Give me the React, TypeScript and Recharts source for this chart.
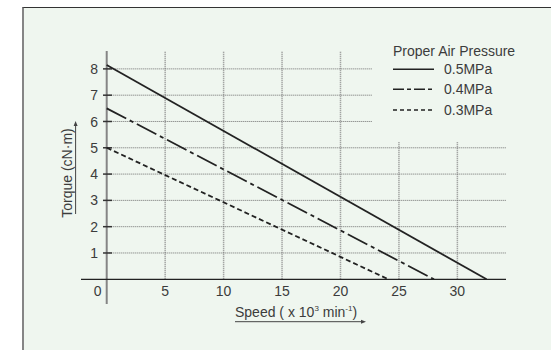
import React from 'react';
import { LineChart, Line, XAxis, YAxis, ReferenceLine, Legend } from 'recharts';

const speedTicks = [0, 5, 10, 15, 20, 25, 30];
const torqueTicks = [1, 2, 3, 4, 5, 6, 7, 8];

const seriesNames = ['0.5MPa', '0.4MPa', '0.3MPa'];
const speed05 = [0, 32.5];
const torque05 = [8.15, 0];
const speed04 = [0, 28.0];
const torque04 = [6.5, 0];
const speed03 = [0, 24.1];
const torque03 = [5.0, 0];

const legendTitle = 'Proper Air Pressure';
const xTitle = 'Speed';
const yTitle = 'Torque (cN·m)';

const toData = (s: number[], t: number[]) => s.map((v, i) => ({ s: v, t: t[i] }));

const dashes = ['', '22 4 4 4', '5 3'];
const series = [
  { name: seriesNames[0], data: toData(speed05, torque05), dash: dashes[0] },
  { name: seriesNames[1], data: toData(speed04, torque04), dash: dashes[1] },
  { name: seriesNames[2], data: toData(speed03, torque03), dash: dashes[2] },
];

const FONT = '"Liberation Sans", Arial, Helvetica, sans-serif';
const TEXT = '#3c3c3c';
const X_MIN = -2.2;
const X_MAX = 34.16;
const Y_MIN = -0.94;
const Y_MAX = 8.68;

const XTick = (props: any) => {
  const { x, y, payload } = props;
  const dx = payload.value === 0 ? -9 : 0;
  return (
    <text x={x + dx} y={y - 8} textAnchor="middle" fontSize={14} fill={TEXT} fontFamily={FONT}>
      {payload.value}
    </text>
  );
};

const YTick = (props: any) => {
  const { x, y, payload } = props;
  return (
    <text x={x + 17} y={y} dy="0.36em" textAnchor="end" fontSize={14} fill={TEXT} fontFamily={FONT}>
      {payload.value}
    </text>
  );
};

const renderLegend = () => (
  <svg width={160} height={84} style={{ display: 'block' }}>
    <text x={3} y={17} fontSize={14} fill={TEXT} fontFamily={FONT}>{legendTitle}</text>
    {series.map((s, i) => {
      const cy = [30.3, 50.3, 71][i];
      return (
        <g key={s.name}>
          <line x1={3} x2={44} y1={cy} y2={cy} stroke="#222" strokeWidth={1.6} strokeDasharray={i === 1 ? '11 3 4 3' : i === 2 ? '4 3' : undefined} />
          <text x={54} y={cy + 5} fontSize={14} fill={TEXT} fontFamily={FONT}>{s.name}</text>
        </g>
      );
    })}
  </svg>
);

export default function App() {
  return (
    <div style={{ position: 'absolute', left: 0, top: 0, width: 551, height: 350, background: '#fff' }}>
      <div
        style={{
          position: 'absolute',
          left: 22,
          top: 7,
          width: 529,
          height: 343,
          background: '#eff6ef',
          borderLeft: '2px solid #858585',
          borderTop: '1px solid #333',
          boxSizing: 'border-box',
        }}
      />
      <div style={{ position: 'absolute', left: 0, top: 0 }}>
        <LineChart width={551} height={350} margin={{ top: 51, right: 45, bottom: 16, left: 51 }}>
          <XAxis
            type="number"
            dataKey="s"
            domain={[X_MIN, X_MAX]}
            allowDataOverflow
            ticks={speedTicks}
            axisLine={false}
            tickLine={false}
            tickSize={0}
            tickMargin={0}
            height={30}
            tick={<XTick />}
          />
          <YAxis
            type="number"
            dataKey="t"
            domain={[Y_MIN, Y_MAX]}
            allowDataOverflow
            ticks={torqueTicks}
            axisLine={false}
            tickLine={false}
            tickSize={0}
            tickMargin={0}
            width={30}
            tick={<YTick />}
          />
          {speedTicks.filter((v) => v > 0).map((v) => (
            <ReferenceLine
              key={'vx' + v}
              segment={[{ x: v, y: 0 }, { x: v, y: v >= 25 ? 5.23 : Y_MAX }]}
              stroke="#8a8a8a"
              strokeWidth={1.5}
              strokeDasharray="1 1"
            />
          ))}
          {torqueTicks.map((v) => (
            <ReferenceLine
              key={'hy' + v}
              segment={[{ x: 0, y: v }, { x: v >= 6 ? 22.67 : X_MAX, y: v }]}
              stroke="#6e6e6e"
              strokeWidth={1}
              strokeDasharray="1 1"
            />
          ))}
          <ReferenceLine segment={[{ x: 0, y: Y_MIN }, { x: 0, y: Y_MAX }]} stroke="#858585" strokeWidth={2} />
          <ReferenceLine segment={[{ x: X_MIN, y: 0 }, { x: X_MAX, y: 0 }]} stroke="#222" strokeWidth={1.3} />
          {torqueTicks.map((v) => (
            <ReferenceLine
              key={'tk' + v}
              segment={[{ x: -0.32, y: v }, { x: 0.45, y: v }]}
              stroke="#333"
              strokeWidth={1.5}
            />
          ))}
          {series.map((s) => (
            <Line
              key={s.name}
              name={s.name}
              data={s.data}
              dataKey="t"
              type="linear"
              stroke="#222"
              strokeWidth={1.8}
              strokeDasharray={s.dash || undefined}
              dot={false}
              activeDot={false}
              isAnimationActive={false}
            />
          ))}
          <Legend
            layout="horizontal"
            verticalAlign="middle"
            align="center"
            content={renderLegend}
            wrapperStyle={{ position: 'absolute', left: 390, top: 39, width: 160, height: 84 }}
          />
        </LineChart>
      </div>
      <svg width={551} height={350} style={{ position: 'absolute', left: 0, top: 0, pointerEvents: 'none' }}>
        <text
          x={0}
          y={0}
          transform="translate(71.5 173) rotate(-90)"
          textAnchor="middle"
          fontSize={14}
          fill={TEXT}
          fontFamily={FONT}
        >
          {yTitle}
        </text>
        <line x1={75.6} x2={75.6} y1={214} y2={124} stroke="#444" strokeWidth={1} />
        <path d="M75.6 121 L73.6 126 L77.6 126 Z" fill="#444" />
        <text x={235} y={316.5} fontSize={14} fill={TEXT} fontFamily={FONT}>
          {xTitle + ' ( x 10'}
          <tspan fontSize={8} dy={-6}>3</tspan>
          <tspan dy={6}>{' min'}</tspan>
          <tspan fontSize={8} dy={-6}>-1</tspan>
          <tspan dy={6}>)</tspan>
        </text>
        <line x1={235} x2={363} y1={321.7} y2={321.7} stroke="#444" strokeWidth={1} />
        <path d="M366 321.7 L361 319.7 L361 323.7 Z" fill="#444" />
      </svg>
    </div>
  );
}
